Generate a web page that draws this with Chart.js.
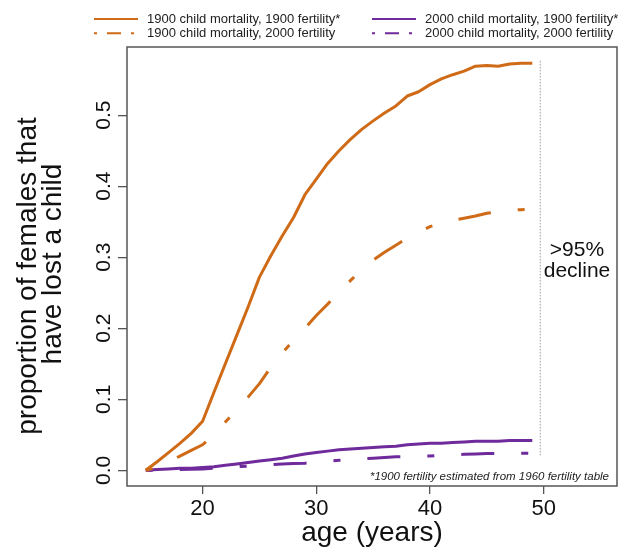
<!DOCTYPE html>
<html>
<head>
<meta charset="utf-8">
<script src="https://cdn.jsdelivr.net/npm/chart.js@4"></script>
<style>
  body { margin: 0; background: #fff; }
  #wrap { width: 634px; height: 550px; }
</style>
</head>
<body>
<div id="wrap"><canvas id="myChart" width="634" height="550"></canvas></div>
<script>
// ages (years)
const ages = [15,16,17,18,19,20,21,22,23,24,25,26,27,28,29,30,31,32,33,34,35,36,37,38,39,40,41,42,43,44,45,46,47,48,49];

// 1900 child mortality, 1900 fertility*
const mort1900fert1900 = [0,0.012,0.025,0.038,0.052,0.069,0.11,0.15,0.19,0.23,0.272,0.302,0.33,0.356,0.388,0.41,0.432,0.45,0.466,0.48,0.492,0.503,0.513,0.527,0.533,0.543,0.551,0.557,0.562,0.569,0.570,0.569,0.572,0.573,0.573];
// 1900 child mortality, 2000 fertility
const mort1900fert2000 = [0,0.004,0.012,0.020,0.028,0.036,0.05,0.068,0.085,0.103,0.122,0.145,0.165,0.183,0.200,0.218,0.234,0.251,0.267,0.283,0.296,0.307,0.317,0.327,0.335,0.343,0.348,0.352,0.355,0.358,0.362,0.364,0.366,0.367,0.368];
// 2000 child mortality, 1900 fertility*
const mort2000fert1900 = [0,0.001,0.002,0.003,0.003,0.004,0.005,0.007,0.009,0.011,0.013,0.015,0.017,0.020,0.023,0.025,0.027,0.029,0.030,0.031,0.032,0.033,0.034,0.036,0.037,0.038,0.038,0.039,0.040,0.041,0.041,0.041,0.042,0.042,0.042];
// 2000 child mortality, 2000 fertility
const mort2000fert2000 = [0,0,0.0005,0.001,0.0015,0.002,0.003,0.004,0.005,0.006,0.007,0.008,0.009,0.0095,0.010,0.011,0.013,0.014,0.015,0.016,0.017,0.018,0.019,0.0195,0.020,0.020,0.021,0.022,0.0225,0.023,0.0235,0.0235,0.024,0.024,0.024];

const xTicks = [20, 30, 40, 50];
const yTicks = [0, 0.1, 0.2, 0.3, 0.4, 0.5];
const yTitle = ['proportion of females that', 'have lost a child'];

// dotted marker showing the decline
const markerAge = 49.7;
const markerRange = [0.021, 0.577];

const ORANGE = '#CF6A17';
const PURPLE = '#6F2A9C';
const FONT = "'Liberation Sans', Arial, sans-serif";
const plotDash = [7, 27, 33, 27];

const pts = s => ages.map((a, i) => ({x: a, y: s[i]}));

// legend, y labels, box and notes
const extras = {
  id: 'extras',
  afterDraw(chart) {
    const c = chart.ctx;
    const area = chart.chartArea;
    const ys = chart.scales.y;

    c.save();
    c.strokeStyle = '#555';
    c.lineWidth = 1.5;
    c.strokeRect(area.left, area.top, area.right - area.left, area.bottom - area.top);

    // y tick labels, rotated like the original
    c.fillStyle = '#111';
    c.font = '21px ' + FONT;
    c.textAlign = 'center';
    c.textBaseline = 'middle';
    ys.ticks.forEach(t => {
      c.save();
      c.translate(104, ys.getPixelForValue(t.value));
      c.rotate(-Math.PI / 2);
      c.fillText(t.value.toFixed(1), 0, 0);
      c.restore();
    });

    // y title, two lines
    c.font = '28px ' + FONT;
    [[28, 276], [53, 264]].forEach(([x, y], i) => {
      c.save();
      c.translate(x, y);
      c.rotate(-Math.PI / 2);
      c.fillText(yTitle[i], 0, 0);
      c.restore();
    });

    // >95% decline
    c.font = '21px ' + FONT;
    c.fillText('>95%', 577, 250);
    c.fillText('decline', 577, 271);

    // footnote
    c.font = 'italic 11.5px ' + FONT;
    c.textAlign = 'right';
    c.fillStyle = '#222';
    c.fillText('*1900 fertility estimated from 1960 fertility table', 609, 477);

    // legend in two columns
    const cols = [94, 372];
    const rows = [19, 33.3];
    const ds = chart.data.datasets;
    [[0, 0, 0], [1, 0, 1], [2, 1, 0], [3, 1, 1]].forEach(([i, col, row]) => {
      const d = ds[i];
      const x = cols[col], y = rows[row];
      c.beginPath();
      c.strokeStyle = d.borderColor;
      c.lineWidth = 2;
      c.setLineDash(d.borderDash.length ? [3, 10, 14, 10] : []);
      c.moveTo(x, y);
      c.lineTo(x + 44, y);
      c.stroke();
      c.setLineDash([]);
      c.font = '13px ' + FONT;
      c.fillStyle = '#222';
      c.textAlign = 'left';
      c.fillText(d.label, x + 53, y + 0.5);
    });
    c.restore();
  }
};

const ctx = document.getElementById('myChart');
const chart = new Chart(ctx, {
  type: 'line',
  data: {
    datasets: [
      {label: '1900 child mortality, 1900 fertility*', data: pts(mort1900fert1900), borderColor: ORANGE, borderWidth: 3, borderDash: []},
      {label: '1900 child mortality, 2000 fertility', data: pts(mort1900fert2000), borderColor: ORANGE, borderWidth: 3, borderDash: plotDash},
      {label: '2000 child mortality, 1900 fertility*', data: pts(mort2000fert1900), borderColor: PURPLE, borderWidth: 3, borderDash: []},
      {label: '2000 child mortality, 2000 fertility', data: pts(mort2000fert2000), borderColor: PURPLE, borderWidth: 3, borderDash: plotDash},
      {label: 'marker', data: markerRange.map(v => ({x: markerAge, y: v})), borderColor: '#999', borderWidth: 1, borderDash: [1.5, 1.5]}
    ]
  },
  options: {
    responsive: false,
    animation: false,
    layout: {padding: {top: 47, right: 17, left: 0, bottom: 0}},
    elements: {
      point: {radius: 0},
      line: {tension: 0, borderJoinStyle: 'round', fill: false}
    },
    plugins: {
      legend: {display: false},
      tooltip: {enabled: false}
    },
    scales: {
      x: {
        type: 'linear',
        min: 13.35,
        max: 56.45,
        afterBuildTicks: s => { s.ticks = xTicks.map(v => ({value: v})); },
        afterFit: s => { s.height = 64; },
        grid: {drawOnChartArea: false, drawTicks: true, tickLength: 8, color: '#555', lineWidth: 1.3},
        border: {display: false},
        ticks: {autoSkip: false, maxRotation: 0, padding: 2, color: '#111', font: {family: FONT, size: 22}},
        title: {display: true, text: 'age (years)', color: '#111', padding: {top: 0, bottom: 0}, font: {family: FONT, size: 28, lineHeight: 1.2}}
      },
      y: {
        min: -0.0221,
        max: 0.596,
        afterBuildTicks: s => { s.ticks = yTicks.map(v => ({value: v})); },
        afterFit: s => { s.width = 127; },
        grid: {drawOnChartArea: false, drawTicks: true, tickLength: 9, color: '#555', lineWidth: 1.3},
        border: {display: false},
        ticks: {display: false},
        title: {display: false}
      }
    }
  },
  plugins: [extras]
});
</script>
</body>
</html>
